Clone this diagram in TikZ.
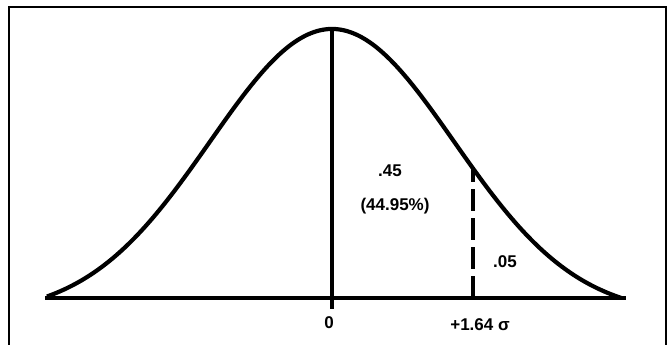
\documentclass[tikz,border=0pt]{standalone}
\usepackage{fontspec}
\setmainfont{Liberation Sans}
\begin{document}
\begin{tikzpicture}[x=1pt,y=1pt,
  lbl/.style={font=\bfseries\fontsize{17}{19}\selectfont, inner sep=1pt},
  curvestyle/.style={line width=4.2pt, line join=round},
  axisstyle/.style={line width=3.6pt},
  framestyle/.style={line width=2pt}]
\useasboundingbox (0,0) rectangle (669,345);
% frame (open at bottom)
\draw[framestyle] (9,0) -- (9,338) -- (666,338) -- (666,0);
% named points
\coordinate (L) at (45,47);
\coordinate (R) at (626,47);
\coordinate (Mtop) at (332,318);
\coordinate (Mtick) at (332,36);
\coordinate (D) at (473,47);
\coordinate (Dtop) at (473,{47+269*(exp(-((473-332)/122)^2/2)-0.06)/0.94});
% curve
\draw[curvestyle] plot[domain=47:621, samples=160, smooth]
  (\x,{47+269*(exp(-((\x-332)/122)^2/2)-0.06)/0.94});
% baseline
\draw[axisstyle] (L) -- (R);
% centre line with tick
\draw[line width=4.4pt] (Mtick) -- (Mtop);
% dashed line
\draw[line width=3.4pt, dash pattern=on 22pt off 7pt] (D) -- (Dtop);
% labels
\node[lbl] (zero) at (329,22) {0};
\node[lbl] (sig) at (480,20) {+1.64 σ};
\node[lbl] (pa) at (390,174) {.45};
\node[lbl] (pb) at (395,139) {(44.95\%)};
\node[lbl] (tail) at (505,83) {.05};
\end{tikzpicture}
\end{document}
